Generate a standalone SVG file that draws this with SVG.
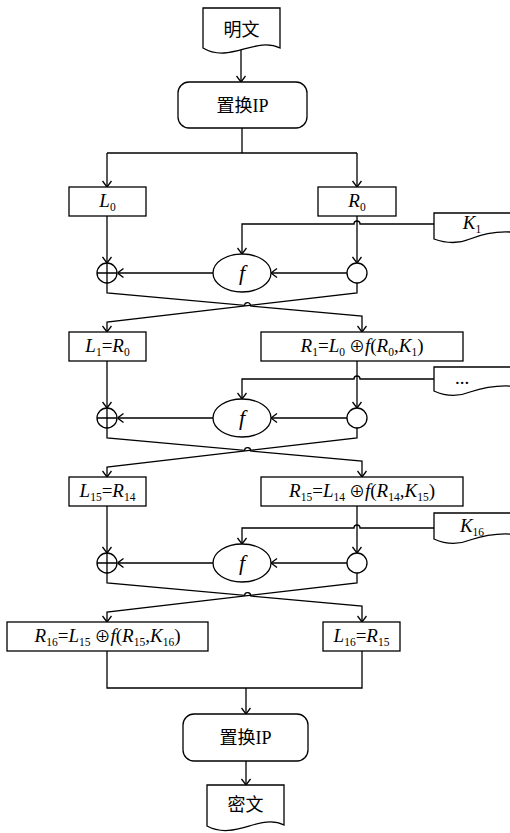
<svg xmlns="http://www.w3.org/2000/svg" width="510" height="833" viewBox="0 0 510 833">
<style>
.ln{fill:none;stroke:#000;stroke-width:1.3}
.sh{fill:#fff;stroke:#000;stroke-width:1.3}
.t{font-family:"Liberation Serif","Noto Sans CJK SC",serif;font-size:19px;fill:#000}
.c{font-family:"Liberation Serif","Noto Sans CJK SC",serif;font-size:18px;fill:#000}
.i{font-style:italic}
.s{font-size:11.5px;font-style:normal}
.x{font-size:16px}
.fe{font-family:"Liberation Serif",serif;font-size:22px;font-style:italic;fill:#000}
</style>
<defs>
<marker id="arr" viewBox="0 0 10 10" refX="10" refY="5" markerWidth="10" markerHeight="10" markerUnits="userSpaceOnUse" orient="auto">
<path d="M4,0.5 L10,5 L4,9.5" fill="none" stroke="#000" stroke-width="1.3"/>
</marker>
</defs>
<rect width="510" height="833" fill="#fff"/>

<g id="connectors" class="ln">
<path d="M241,50 V82" marker-end="url(#arr)"/>
<path d="M242,128 V153"/>
<path d="M107,153 H357"/>
<path d="M107,153 V187" marker-end="url(#arr)"/>
<path d="M357,153 V187" marker-end="url(#arr)"/>
<path d="M107,216 V263" marker-end="url(#arr)"/>
<path d="M357,216 V263" marker-end="url(#arr)"/>
<path d="M434,224 H360 A3,3 0 0 0 354,224 H242 V254" marker-end="url(#arr)"/>
<path d="M347,273 H271" marker-end="url(#arr)"/>
<path d="M213,273 H117.5" marker-end="url(#arr)"/>
<path d="M107,283 V293 L244.6,305.4 A3,3 0 0 1 250.6,306 L362,316 V332" marker-end="url(#arr)"/>
<path d="M357,283 V293 L107,322 V332" marker-end="url(#arr)"/>
<path d="M107,361 V408" marker-end="url(#arr)"/>
<path d="M357,361 V408" marker-end="url(#arr)"/>
<path d="M434,379 H360 A3,3 0 0 0 354,379 H242 V399" marker-end="url(#arr)"/>
<path d="M347,418 H271" marker-end="url(#arr)"/>
<path d="M213,418 H117.5" marker-end="url(#arr)"/>
<path d="M107,428 V438 L244.6,450.4 A3,3 0 0 1 250.6,451 L362,461 V477" marker-end="url(#arr)"/>
<path d="M357,428 V438 L107,467 V477" marker-end="url(#arr)"/>
<path d="M107,506 V553" marker-end="url(#arr)"/>
<path d="M357,506 V553" marker-end="url(#arr)"/>
<path d="M434,528 H360 A3,3 0 0 0 354,528 H242 V544" marker-end="url(#arr)"/>
<path d="M347,563 H271" marker-end="url(#arr)"/>
<path d="M213,563 H117.5" marker-end="url(#arr)"/>
<path d="M107,573 V583 L244.6,595.4 A3,3 0 0 1 250.6,596 L362,606 V622" marker-end="url(#arr)"/>
<path d="M357,573 V583 L107,612 V622" marker-end="url(#arr)"/>
<path d="M107,651 V688 H362 V651"/>
<path d="M246,688 V714" marker-end="url(#arr)"/>
<path d="M246,761 V785" marker-end="url(#arr)"/>
</g>

<g id="plaintext">
<path class="sh" d="M203,8 H280 V48 C255,36 230,64 203,48 Z"/>
<text class="c" x="241.5" y="36" text-anchor="middle">明文</text>
</g>
<g id="ip1">
<rect class="sh" x="178" y="82" width="129" height="46" rx="11"/>
<text class="c" x="242.5" y="112" text-anchor="middle">置换IP</text>
</g>

<g id="L0">
<rect class="sh" x="69" y="187" width="77" height="29"/>
<text class="t" x="107.5" y="207" text-anchor="middle"><tspan class="i">L</tspan><tspan class="s" dy="4">0</tspan></text>
</g>
<g id="R0">
<rect class="sh" x="318" y="187" width="78" height="29"/>
<text class="t" x="357" y="207" text-anchor="middle"><tspan class="i">R</tspan><tspan class="s" dy="4">0</tspan></text>
</g>
<g id="K1">
<path class="sh" d="M434,213 H520 V233 C500,230 485,233 470,239 C458,244 445,243 434,239 Z"/>
<text class="t" x="472" y="229" text-anchor="middle"><tspan class="i">K</tspan><tspan class="s" dy="4">1</tspan></text>
</g>
<g id="xor1">
<circle class="sh" cx="107" cy="273" r="10"/>
<path class="ln" d="M97,273 H117 M107,263 V283"/>
</g>
<g id="f1">
<ellipse class="sh" cx="242" cy="273" rx="29" ry="19"/>
<text class="fe" x="242" y="280" text-anchor="middle">f</text>
</g>
<g id="split1"><circle class="sh" cx="357" cy="273" r="10"/></g>

<g id="L1">
<rect class="sh" x="69" y="332" width="77" height="29"/>
<text class="t" x="107.5" y="352" text-anchor="middle"><tspan class="i">L</tspan><tspan class="s" dy="4">1</tspan><tspan dy="-4">=</tspan><tspan class="i">R</tspan><tspan class="s" dy="4">0</tspan></text>
</g>
<g id="R1">
<rect class="sh" x="261" y="332" width="202" height="29"/>
<text class="t" x="362" y="352" text-anchor="middle"><tspan class="i">R</tspan><tspan class="s" dy="4">1</tspan><tspan dy="-4">=</tspan><tspan class="i">L</tspan><tspan class="s" dy="4">0</tspan><tspan class="x" dy="-4"> ⊕</tspan><tspan class="i">f</tspan>(<tspan class="i">R</tspan><tspan class="s" dy="4">0</tspan><tspan dy="-4">,</tspan><tspan class="i">K</tspan><tspan class="s" dy="4">1</tspan><tspan dy="-4">)</tspan></text>
</g>
<g id="Kdots">
<path class="sh" d="M434,367 H520 V387 C500,384 485,387 470,392 C458,397 445,396 434,391 Z"/>
<text class="t" x="462" y="384" text-anchor="middle" font-size="11">...</text>
</g>
<g id="xor2">
<circle class="sh" cx="107" cy="418" r="10"/>
<path class="ln" d="M97,418 H117 M107,408 V428"/>
</g>
<g id="f2">
<ellipse class="sh" cx="242" cy="418" rx="29" ry="19"/>
<text class="fe" x="242" y="425" text-anchor="middle">f</text>
</g>
<g id="split2"><circle class="sh" cx="357" cy="418" r="10"/></g>

<g id="L15">
<rect class="sh" x="69" y="477" width="77" height="29"/>
<text class="t" x="107.5" y="497" text-anchor="middle"><tspan class="i">L</tspan><tspan class="s" dy="4">15</tspan><tspan dy="-4">=</tspan><tspan class="i">R</tspan><tspan class="s" dy="4">14</tspan></text>
</g>
<g id="R15">
<rect class="sh" x="261" y="477" width="202" height="29"/>
<text class="t" x="362" y="497" text-anchor="middle"><tspan class="i">R</tspan><tspan class="s" dy="4">15</tspan><tspan dy="-4">=</tspan><tspan class="i">L</tspan><tspan class="s" dy="4">14</tspan><tspan class="x" dy="-4"> ⊕</tspan><tspan class="i">f</tspan>(<tspan class="i">R</tspan><tspan class="s" dy="4">14</tspan><tspan dy="-4">,</tspan><tspan class="i">K</tspan><tspan class="s" dy="4">15</tspan><tspan dy="-4">)</tspan></text>
</g>
<g id="K16">
<path class="sh" d="M434,513 H520 V535 C500,532 485,535 470,540 C458,545 445,544 434,539 Z"/>
<text class="t" x="472" y="532" text-anchor="middle"><tspan class="i">K</tspan><tspan class="s" dy="4">16</tspan></text>
</g>
<g id="xor3">
<circle class="sh" cx="107" cy="563" r="10"/>
<path class="ln" d="M97,563 H117 M107,553 V573"/>
</g>
<g id="f3">
<ellipse class="sh" cx="242" cy="563" rx="29" ry="19"/>
<text class="fe" x="242" y="570" text-anchor="middle">f</text>
</g>
<g id="split3"><circle class="sh" cx="357" cy="563" r="10"/></g>

<g id="R16">
<rect class="sh" x="7" y="622" width="201" height="29"/>
<text class="t" x="107.5" y="642" text-anchor="middle"><tspan class="i">R</tspan><tspan class="s" dy="4">16</tspan><tspan dy="-4">=</tspan><tspan class="i">L</tspan><tspan class="s" dy="4">15</tspan><tspan class="x" dy="-4"> ⊕</tspan><tspan class="i">f</tspan>(<tspan class="i">R</tspan><tspan class="s" dy="4">15</tspan><tspan dy="-4">,</tspan><tspan class="i">K</tspan><tspan class="s" dy="4">16</tspan><tspan dy="-4">)</tspan></text>
</g>
<g id="L16">
<rect class="sh" x="323" y="622" width="77" height="29"/>
<text class="t" x="361.5" y="642" text-anchor="middle"><tspan class="i">L</tspan><tspan class="s" dy="4">16</tspan><tspan dy="-4">=</tspan><tspan class="i">R</tspan><tspan class="s" dy="4">15</tspan></text>
</g>

<g id="ip2">
<rect class="sh" x="183" y="714" width="125" height="47" rx="11"/>
<text class="c" x="245.5" y="744" text-anchor="middle">置换IP</text>
</g>
<g id="ciphertext">
<path class="sh" d="M207,785 H284 V825 C260,813 235,841 207,826 Z"/>
<text class="c" x="245.5" y="811" text-anchor="middle">密文</text>
</g>
</svg>
